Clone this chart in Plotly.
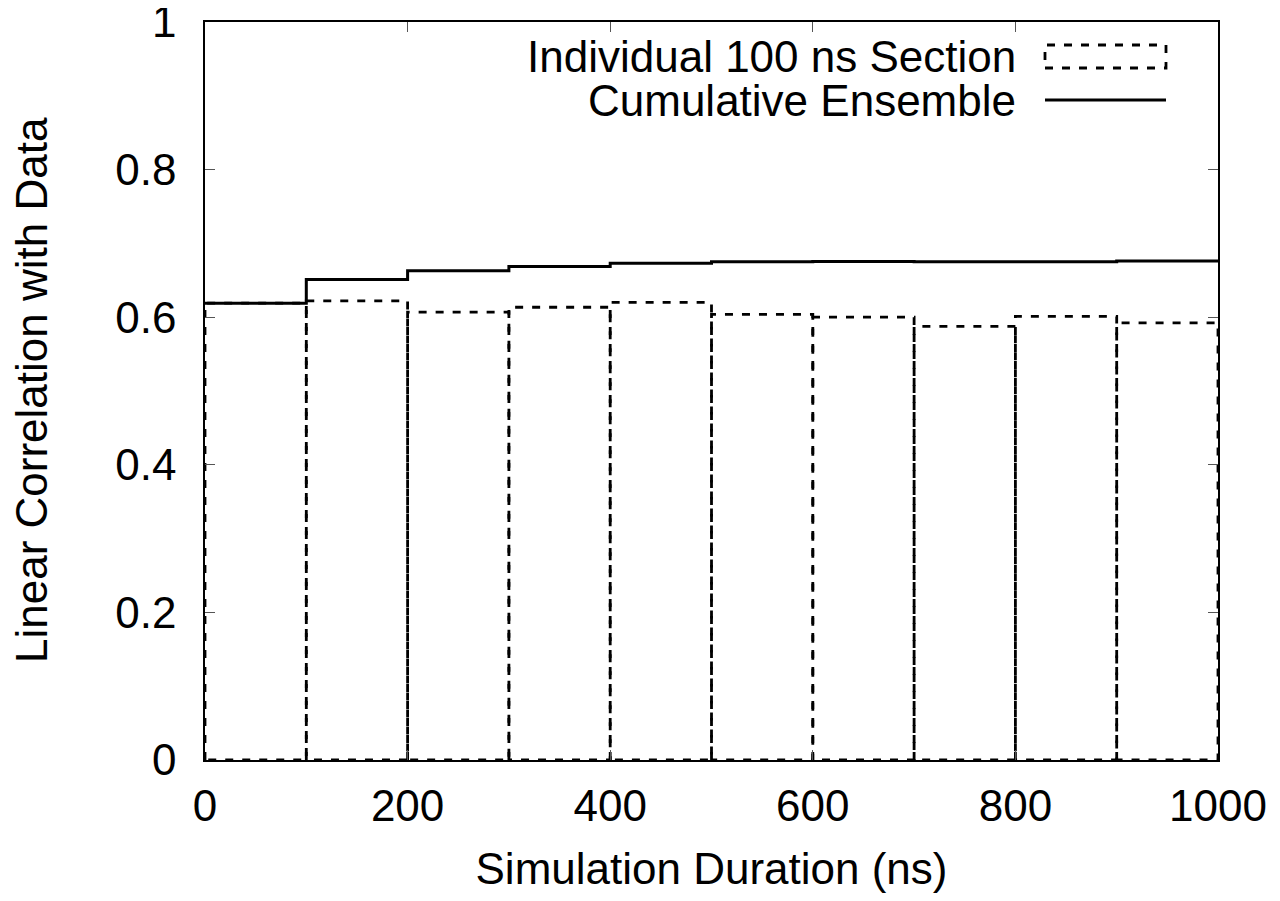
import plotly.graph_objects as go

# ---- data ----
section_start = [0, 100, 200, 300, 400, 500, 600, 700, 800, 900]
section_width = 100
individual = [0.619, 0.622, 0.607, 0.6135, 0.620, 0.6037, 0.600, 0.5877, 0.601, 0.5923]
cumulative = [0.619, 0.651, 0.663, 0.6686, 0.673, 0.675, 0.6755, 0.675, 0.675, 0.676]
x_ticks = [0, 200, 400, 600, 800, 1000]
y_ticks = [0, 0.2, 0.4, 0.6, 0.8, 1]
y_tick_labels = ["0", "0.2", "0.4", "0.6", "0.8", "1"]
legend_labels = ["Individual 100 ns Section", "Cumulative Ensemble"]
x_title = "Simulation Duration (ns)"
y_title = "Linear Correlation with Data"

FONT = "Liberation Sans, Arial, Helvetica, sans-serif"
FS = 44

# boxes outline path built from data
bx, by = [], []
for s, v in zip(section_start, individual):
    e = s + section_width
    bx += [s, s, e, e, s, None]
    by += [0, v, v, 0, 0, None]

cx = section_start + [section_start[-1] + section_width]
cy = cumulative + [cumulative[-1]]

fig = go.Figure()
fig.add_trace(go.Scatter(x=bx, y=by, mode="lines", name=legend_labels[0],
                         line=dict(color="black", width=2.8, dash="8px,9px"),
                         showlegend=False, hoverinfo="skip"))
fig.add_trace(go.Scatter(x=cx, y=cy, mode="lines", name=legend_labels[1],
                         line=dict(color="black", width=3, shape="hv"),
                         showlegend=False))

# page layout (page has an 8px body margin)
OFF = 8
W, H = 1280, 901
PL, PR, PT, PB = 205, 1218, 22, 760   # plot area in page pixels
L = PL - OFF
R = W - (PR - OFF)
T = PT - OFF
B = H - (PB - OFF)
pw, ph = PR - PL, PB - PT

def px_x(p):
    return (p - PL) / pw

def px_y(p):
    return (PB - p) / ph

fig.add_annotation(x=px_x(1018), y=px_y(57), xref="paper", yref="paper",
                   text=legend_labels[0], showarrow=False, xanchor="right", yanchor="middle",
                   font=dict(family=FONT, size=FS, color="black"))
fig.add_annotation(x=px_x(1018), y=px_y(100), xref="paper", yref="paper",
                   text=legend_labels[1], showarrow=False, xanchor="right", yanchor="middle",
                   font=dict(family=FONT, size=FS, color="black"))
fig.add_shape(type="rect", xref="paper", yref="paper",
              x0=px_x(1045), x1=px_x(1166), y0=px_y(68), y1=px_y(45),
              line=dict(color="black", width=2.8, dash="8px,9px"), fillcolor="rgba(0,0,0,0)")
fig.add_shape(type="line", xref="paper", yref="paper",
              x0=px_x(1045), x1=px_x(1166), y0=px_y(100), y1=px_y(100),
              line=dict(color="black", width=3))

# y-axis title as rotated text placed like the reference
fig.add_annotation(x=px_x(31), y=px_y(390), xref="paper", yref="paper",
                   text=y_title, showarrow=False, textangle=-90,
                   xanchor="center", yanchor="middle",
                   font=dict(family=FONT, size=FS, color="black"))

axis_common = dict(showline=True, linecolor="black", linewidth=1.5, mirror="allticks",
                   ticks="inside", ticklen=10, tickwidth=1, tickcolor="#555",
                   showgrid=False, zeroline=False, ticklabeloverflow="allow",
                   tickfont=dict(family=FONT, size=FS, color="black"))

fig.update_xaxes(range=[0, 1000], tickvals=x_ticks, ticklabelstandoff=6,
                 title=dict(text=x_title, standoff=25,
                            font=dict(family=FONT, size=FS, color="black")),
                 **axis_common)
fig.update_yaxes(range=[0, 1], tickvals=y_ticks, ticktext=y_tick_labels, ticklabelstandoff=18,
                 **axis_common)

fig.update_layout(width=W, height=H, autosize=False,
                  margin=dict(l=L, r=R, t=T, b=B, autoexpand=False),
                  paper_bgcolor="white", plot_bgcolor="white",
                  font=dict(family=FONT, size=FS, color="black"))

fig.write_html("out.html")
